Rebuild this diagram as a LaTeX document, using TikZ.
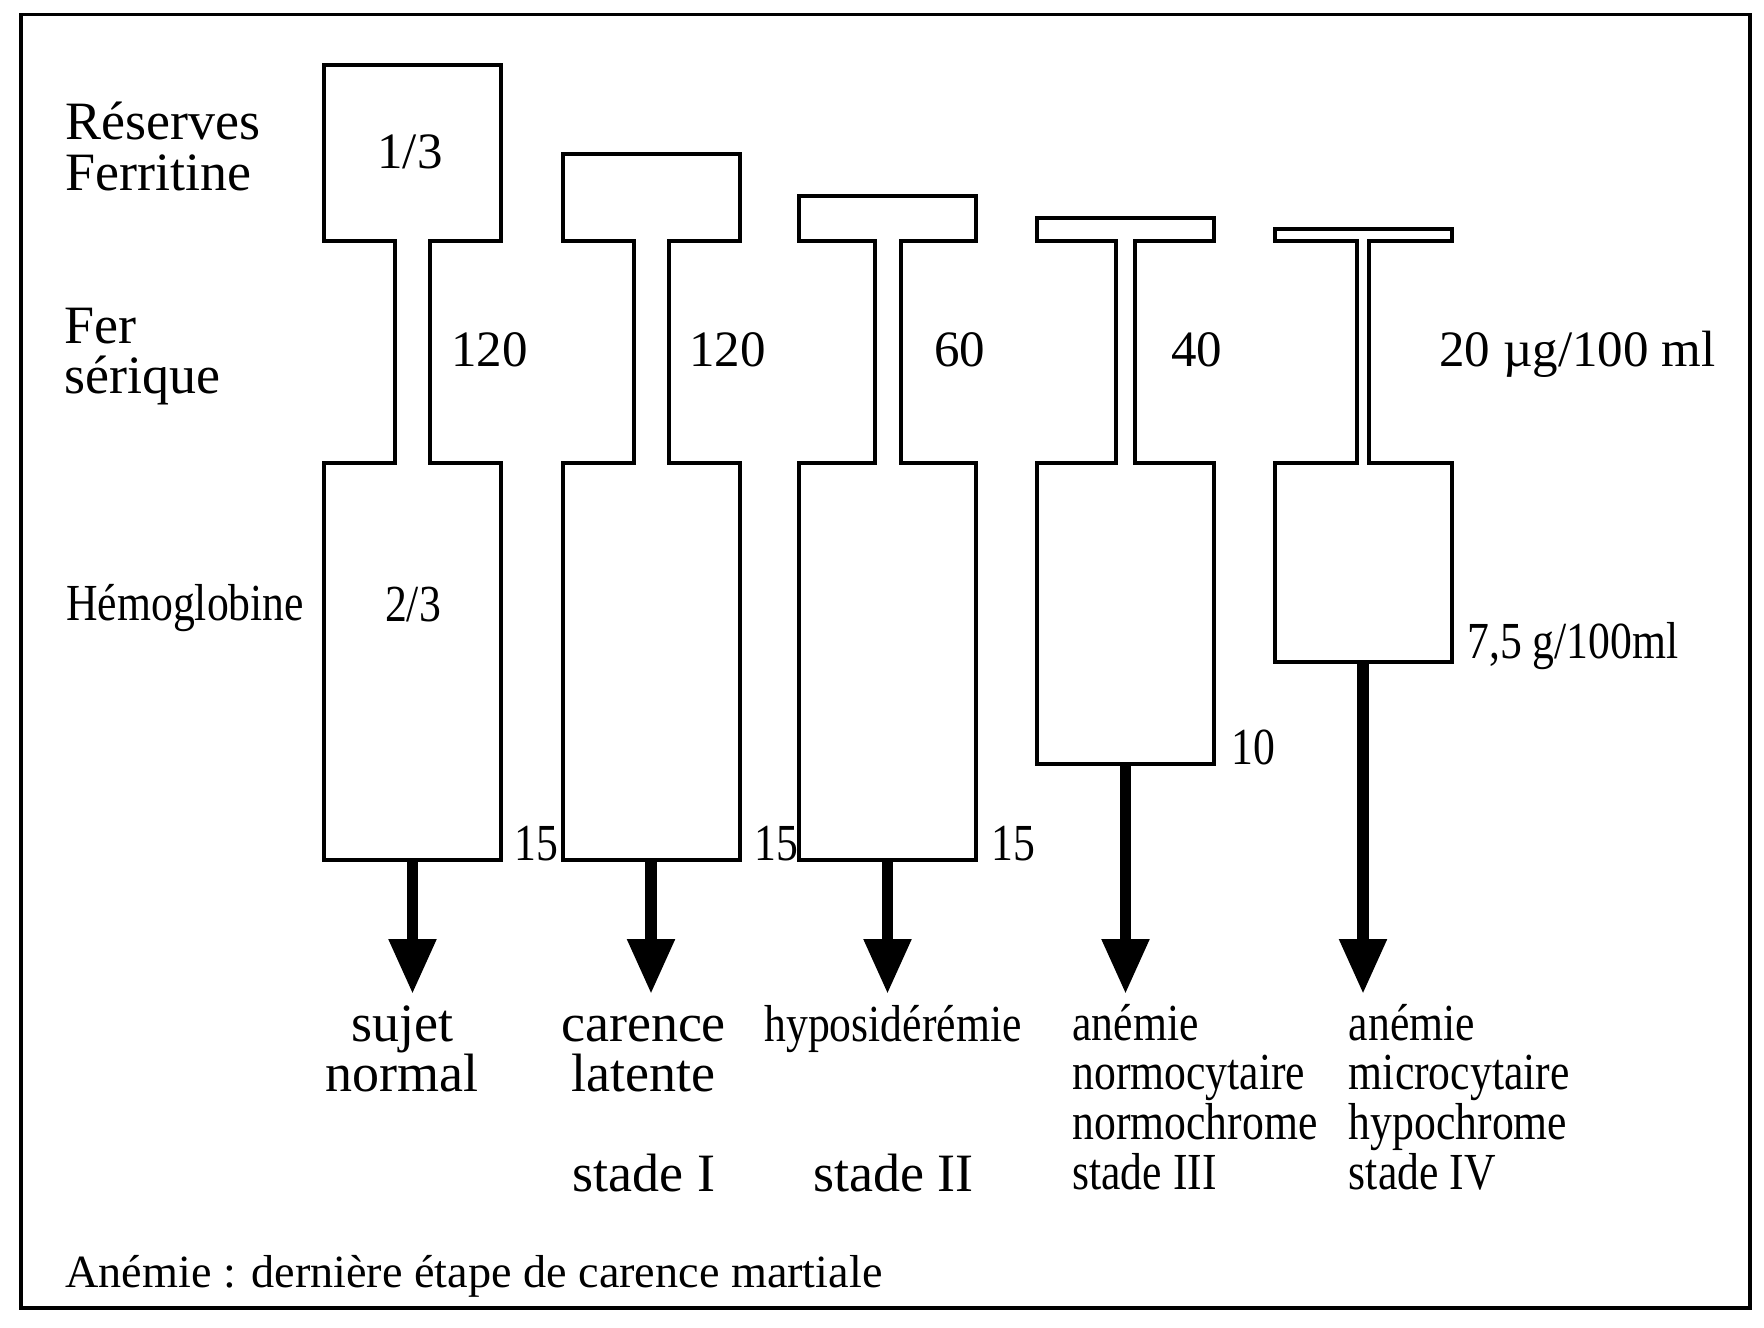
\documentclass[tikz,border=0pt]{standalone}
\usepackage{fontspec}
\setmainfont{Liberation Serif}
\newfontfamily\cond[FakeStretch=0.84]{Liberation Serif}
\usetikzlibrary{arrows.meta}
\tikzset{
  shp/.style={draw=black, line width=2pt},
  frm/.style={draw=black, line width=1.75pt},
  arr/.style={draw=black, line width=5.75pt, -{Triangle[width=22.5pt,length=27.5pt]}},
  big/.style={inner sep=0pt, font=\fontsize{27}{30}\selectfont},
  num/.style={inner sep=0pt, font=\fontsize{25.5}{28}\selectfont},
  cnd/.style={inner sep=0pt, font=\cond\fontsize{26}{29}\selectfont},
  foot/.style={inner sep=0pt, font=\fontsize{23.1}{26}\selectfont},
}
\begin{document}
\begin{tikzpicture}[x=0.5pt,y=-0.5pt]
\fill[white] (0,0) rectangle (1764,1327);
\useasboundingbox (0,0) rectangle (1764,1327);
\draw[frm] (21,14.5) rectangle (1750,1308);

% flasks: index/centre x/top of reserve box/neck half-width/bottom of haemoglobin box
\foreach \n/\cx/\yt/\nw/\yb in {1/412.5/65/17.5/860, 2/651/153.5/17.5/860, 3/887.5/196/13/860, 4/1125.5/217.5/9.3/764, 5/1363/228.5/5.7/661.5}{
  \draw[shp] ({\cx-88.5},\yt) -- ({\cx+88.5},\yt) -- ({\cx+88.5},240.7) -- ({\cx+\nw},240.7)
    -- ({\cx+\nw},462.7) -- ({\cx+88.5},462.7) -- ({\cx+88.5},\yb) -- ({\cx-88.5},\yb)
    -- ({\cx-88.5},462.7) -- ({\cx-\nw},462.7) -- ({\cx-\nw},240.7) -- ({\cx-88.5},240.7) -- cycle;
  \coordinate (b\n) at (\cx,\yb);
  \coordinate (t\n) at (\cx,994);
  \draw[arr] (b\n) -- (t\n);
}

% left labels
\node[big, anchor=base west] (res)  at (65,140) {Réserves};
\node[big, anchor=base west] (ferr) at (65,190) {Ferritine};
\node[big, anchor=base west] (fer)  at (64,343) {Fer};
\node[big, anchor=base west] (ser)  at (64,393) {sérique};
\node[cnd, anchor=base west] (hem)  at (66,620) {Hémoglobine};

% fractions
\node[num, anchor=base] (r13) at (410,168) {1/3};
\node[cnd, anchor=base] (r23) at (413,621) {2/3};

% serum iron
\node[num, anchor=base west] (f1) at (451,366.5) {120};
\node[num, anchor=base west] (f2) at (689,366.5) {120};
\node[num, anchor=base west] (f3) at (934,366) {60};
\node[num, anchor=base west] (f4) at (1171,366) {40};
\node[num, anchor=base west] (f5) at (1439,366) {20 µg/100 ml};

% haemoglobin values
\node[cnd, anchor=base west] (h1) at (514,860) {15};
\node[cnd, anchor=base west] (h2) at (754,860) {15};
\node[cnd, anchor=base west] (h3) at (991,860) {15};
\node[cnd, anchor=base west] (h4) at (1231,764) {10};
\node[cnd, anchor=base west] (h5) at (1467,658.5) {7,5 g/100ml};

% bottom labels
\node[big, anchor=base] (s1a) at (402,1041.5) {sujet};
\node[big, anchor=base] (s1b) at (402,1091.5) {normal};
\node[big, anchor=base] (s2a) at (643.5,1041.5) {carence};
\node[big, anchor=base] (s2b) at (643.5,1091.5) {latente};
\node[big, anchor=base] (s2c) at (644,1191.5) {stade I};
\node[cnd, anchor=base] (s3a) at (893,1041.5) {hyposidérémie};
\node[big, anchor=base] (s3c) at (893.5,1191.5) {stade II};

\node[cnd, anchor=base west] (s4a) at (1072,1040) {anémie};
\node[cnd, anchor=base west] (s4b) at (1072,1089.5) {normocytaire};
\node[cnd, anchor=base west] (s4c) at (1072,1139.5) {normochrome};
\node[cnd, anchor=base west] (s4d) at (1072,1189.5) {stade III};

\node[cnd, anchor=base west] (s5a) at (1348.5,1040) {anémie};
\node[cnd, anchor=base west] (s5b) at (1348.5,1089.5) {microcytaire};
\node[cnd, anchor=base west] (s5c) at (1348.5,1139.5) {hypochrome};
\node[cnd, anchor=base west] (s5d) at (1348.5,1189.5) {stade IV};

% footer
\node[foot, anchor=base west] (ft) at (65,1287) {Anémie : dernière étape de carence martiale};
\end{tikzpicture}
\end{document}
